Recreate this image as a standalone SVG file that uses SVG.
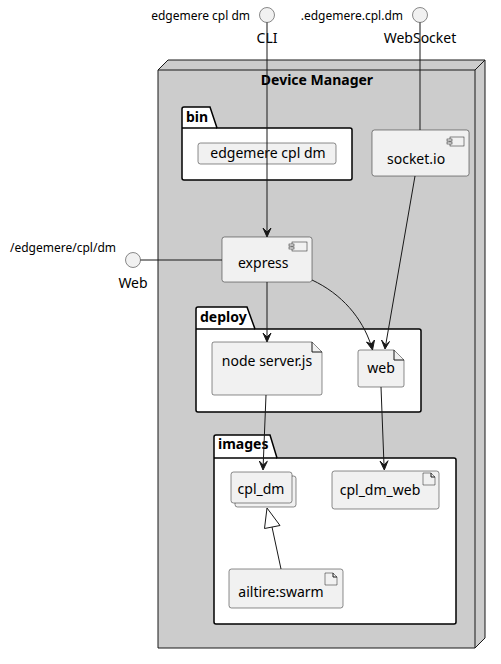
<svg xmlns="http://www.w3.org/2000/svg" width="501" height="664" viewBox="0 0 501 664">
<style>
text{font-family:"Noto Sans","Open Sans","Liberation Sans",sans-serif;fill:#000}
.n{font-size:14px}
.s{font-size:12px}
.b{font-size:14px;font-weight:bold}
.el{fill:#F1F1F1;stroke:#181818;stroke-width:0.5}
.pk{fill:#FFFFFF;stroke:#000;stroke-width:1.5}
.ic{fill:#F1F1F1;stroke:#181818;stroke-width:0.5}
.ln{fill:none;stroke:#181818;stroke-width:1}
.ah{fill:#181818;stroke:#181818;stroke-width:1}
</style>
<g id="device-manager">
<path d="M158,70 L168,60 L485,60 L485,638 L475,648 L158,648 Z" fill="#CCCCCC" stroke="#181818" stroke-width="1"/>
<path d="M158,70 L475,70 L485,60 M475,70 L475,648" fill="none" stroke="#181818" stroke-width="1"/>
<text class="b" x="317" y="85" text-anchor="middle">Device Manager</text>
</g>
<g id="pkg-bin">
<path class="pk" d="M184,107 L210,107 L217,128 L350,128 Q352,128 352,130 L352,178 Q352,180 350,180 L184,180 Q182,180 182,178 L182,109 Q182,107 184,107 Z"/>
<path d="M182,128 L217,128" stroke="#000" stroke-width="1.5"/>
<text class="b" x="186" y="122">bin</text>
</g>
<g id="pkg-deploy">
<path class="pk" d="M198,307 L247,307 L255,329 L419,329 Q421,329 421,331 L421,410 Q421,412 419,412 L198,412 Q196,412 196,410 L196,309 Q196,307 198,307 Z"/>
<path d="M196,329 L255,329" stroke="#000" stroke-width="1.5"/>
<text class="b" x="200" y="322">deploy</text>
</g>
<g id="pkg-images">
<path class="pk" d="M216,435 L270,435 L277,458 L454,458 Q456,458 456,460 L456,622 Q456,624 454,624 L216,624 Q214,624 214,622 L214,437 Q214,435 216,435 Z"/>
<path d="M214,458 L277,458" stroke="#000" stroke-width="1.5"/>
<text class="b" x="218" y="449">images</text>
</g>
<g id="if-cli">
<circle cx="267" cy="15" r="7.5" class="el"/>
<text class="s" x="250" y="20" text-anchor="end">edgemere cpl dm</text>
<text class="n" x="267" y="43" text-anchor="middle">CLI</text>
</g>
<g id="if-websocket">
<circle cx="420" cy="15" r="7.5" class="el"/>
<text class="s" x="403" y="20" text-anchor="end">.edgemere.cpl.dm</text>
<text class="n" x="420" y="43" text-anchor="middle">WebSocket</text>
</g>
<g id="if-web">
<circle cx="133" cy="260" r="7.5" class="el"/>
<text class="s" x="116" y="252" text-anchor="end">/edgemere/cpl/dm</text>
<text class="n" x="133" y="288" text-anchor="middle">Web</text>
</g>
<g id="cmd-edgemere">
<rect class="el" x="198" y="143" width="138" height="21" rx="2.5"/>
<text class="n" x="268" y="158" text-anchor="middle">edgemere cpl dm</text>
</g>
<g id="comp-socketio">
<rect class="el" x="372" y="130" width="97" height="46" rx="2.5"/>
<rect class="ic" x="450" y="137" width="14" height="9"/>
<rect class="ic" x="447" y="139" width="5" height="2"/>
<rect class="ic" x="447" y="142" width="5" height="2"/>
<text class="n" x="387" y="164">socket.io</text>
</g>
<g id="comp-express">
<rect class="el" x="222" y="237" width="90" height="45" rx="2.5"/>
<rect class="ic" x="292" y="242" width="15" height="9"/>
<rect class="ic" x="289" y="244" width="5" height="2"/>
<rect class="ic" x="289" y="247" width="5" height="2"/>
<text class="n" x="238" y="268">express</text>
</g>
<g id="art-server">
<path class="el" d="M214,342 L312,342 L322,352 L322,393 Q322,395 320,395 L214,395 Q212,395 212,393 L212,344 Q212,342 214,342 Z"/>
<path class="ln" d="M312,342 L312,352 L322,352" stroke-width="0.5"/>
<text class="n" x="267" y="366" text-anchor="middle">node server.js</text>
</g>
<g id="art-web">
<path class="el" d="M360,350 L394,350 L404,360 L404,385 Q404,387 402,387 L360,387 Q358,387 358,385 L358,352 Q358,350 360,350 Z"/>
<path class="ln" d="M394,350 L394,360 L404,360" stroke-width="0.5"/>
<text class="n" x="381" y="373" text-anchor="middle">web</text>
</g>
<g id="img-cpl-dm">
<rect class="el" x="235" y="476" width="61" height="31" rx="2.5"/>
<rect class="el" x="231" y="472" width="61" height="31" rx="2.5"/>
<text class="n" x="261" y="494" text-anchor="middle">cpl_dm</text>
</g>
<g id="img-cpl-dm-web">
<rect class="el" x="332" y="471" width="107" height="38" rx="2.5"/>
<path class="el" d="M423,473 L431,473 L435,477 L435,485 L423,485 Z"/>
<path class="ln" d="M431,473 L431,477 L435,477" stroke-width="0.5"/>
<text class="n" x="380" y="495" text-anchor="middle">cpl_dm_web</text>
</g>
<g id="img-swarm">
<rect class="el" x="229" y="569" width="114" height="39" rx="2.5"/>
<path class="el" d="M325,573 L333,573 L337,577 L337,585 L325,585 Z"/>
<path class="ln" d="M333,573 L333,577 L337,577" stroke-width="0.5"/>
<text class="n" x="281" y="597" text-anchor="middle">ailtire:swarm</text>
</g>
<g id="connectors">
<path class="ln" d="M267,22.5 L267,232"/>
<polygon class="ah" points="263,228 267,237 271,228 267,232"/>
<path class="ln" d="M420,22.5 L420,130"/>
<path class="ln" d="M140.5,260 L222,260"/>
<path class="ln" d="M267,282 L267,337"/>
<polygon class="ah" points="263,333 267,342 271,333 267,337"/>
<path class="ln" d="M312,280 C342,294 362,318 371,345"/>
<polygon class="ah" points="366.5,342 372.5,350 374.5,340 371,344"/>
<path class="ln" d="M415,176 L385.7,345"/>
<polygon class="ah" points="381.5,340 385,349 389.5,341.5 385.7,345"/>
<path class="ln" d="M266,395 L263.2,465"/>
<polygon class="ah" points="259.3,461 263,470 267.3,461.3 263.2,465"/>
<path class="ln" d="M381,387 L384,465"/>
<polygon class="ah" points="380,461 384.3,470 388,460.7 384,465"/>
<path class="ln" d="M281,569 L272,527"/>
<polygon points="267,508 264.5,528.5 280,525.5" fill="#FFFFFF" stroke="#181818" stroke-width="1"/>
</g>
</svg>
